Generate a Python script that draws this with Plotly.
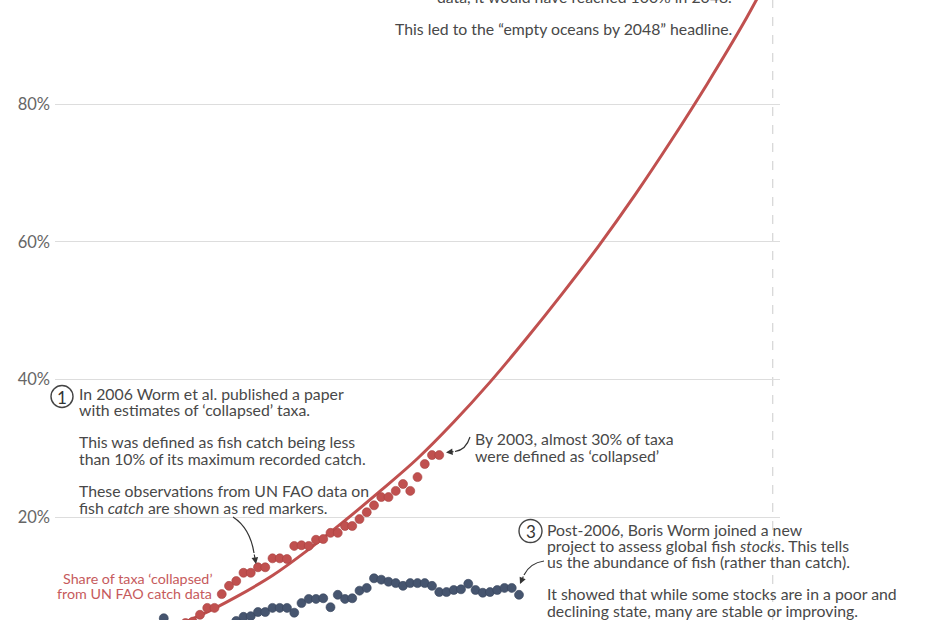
import plotly.graph_objects as go

# ---------------- data ----------------
catch_years = list(range(1968, 2004))
catch_collapsed = [4.6, 4.8,
                   5.8, 6.8, 6.8, 8.8, 10.0, 10.7, 11.9, 11.9, 12.7, 12.7,
                   14.0, 14.0, 13.9, 15.8, 15.9, 15.8, 16.7, 16.8, 17.7, 17.7,
                   18.7, 18.7, 19.7, 20.7, 21.7, 22.9, 22.9, 23.8, 24.8, 23.8,
                   25.8, 27.7, 29.0, 29.0]

stock_years = [1965] + list(range(1975, 2015))
stock_collapsed = [5.3,
                   4.9, 5.5, 5.6, 6.2, 6.2, 6.8, 6.8, 6.8, 6.1, 7.5,
                   8.1, 8.1, 8.2, 6.9, 8.7, 8.1, 8.2, 9.3, 9.7, 11.1,
                   10.9, 10.6, 10.4, 10.0, 10.4, 10.4, 10.4, 10.0, 9.1, 9.1,
                   9.4, 9.5, 10.3, 9.4, 9.0, 9.1, 9.4, 9.7, 9.7, 8.7]

trend_years = [1950, 1955, 1960, 1965, 1970, 1975, 1980, 1985, 1990, 1995, 2000,
               2005, 2010, 2015, 2020, 2025, 2030, 2035, 2040, 2045, 2050]
trend_values = [0.2, 0.9, 1.8, 3.5, 5.7, 8.4, 11.5, 15.3, 19.5, 23.9, 28.5,
                33.8, 39.6, 45.9, 52.5, 59.4, 66.8, 74.7, 83.0, 91.8, 101.6]

y_ticks = [20, 40, 60, 80]
y_tick_labels = ["20%", "40%", "60%", "80%"]
marker_year = 2049

# ---------------- layout geometry ----------------
FIG_W, FIG_H = 930, 620
L, R, T, B = 55, 150, 0, 0
PW, PH = FIG_W - L - R, FIG_H - T - B
X_RANGE = [1950, 2050]
Y_RANGE = [5.04, 95.12]

RED = "#c0504f"
RED_TXT = "#c65a5c"
BLUE = "#46556f"
TXT = "#484848"
FONT = "Lato"
FS = 15.8


def px(p):  # pixel x -> paper x
    return (p - L) / PW


def py(p):  # pixel y -> paper y
    return 1 - (p - T) / PH


fig = go.Figure()

fig.add_trace(go.Scatter(
    x=trend_years, y=trend_values, mode="lines", line_shape="spline",
    line=dict(color=RED, width=3), hoverinfo="skip", showlegend=False))

fig.add_trace(go.Scatter(
    x=catch_years, y=catch_collapsed, mode="markers",
    marker=dict(size=9, color=RED, line=dict(color="#a8413f", width=0.6)),
    showlegend=False, name="catch"))

fig.add_trace(go.Scatter(
    x=stock_years, y=stock_collapsed, mode="markers",
    marker=dict(size=9, color=BLUE, line=dict(color="#38455c", width=0.6)),
    showlegend=False, name="stocks"))

annotations = []
shapes = []


def text_block(x, y0, lines, lh=16.3, size=FS, color=TXT, anchor="left"):
    for i, ln in enumerate(lines):
        if ln == "":
            continue
        annotations.append(dict(
            xref="paper", yref="paper", x=px(x), y=py(y0 + i * lh),
            text=ln, showarrow=False, xanchor=anchor, yanchor="middle",
            borderpad=0,
            font=dict(family=FONT, size=size, color=color)))


def circled(cx, cy, r, label):
    shapes.append(dict(type="circle", xref="paper", yref="paper",
                       x0=px(cx - r), x1=px(cx + r), y0=py(cy + r), y1=py(cy - r),
                       line=dict(color="#444", width=1.4)))
    annotations.append(dict(xref="paper", yref="paper", x=px(cx), y=py(cy + 0.5),
                            text=label, showarrow=False, xanchor="center",
                            yanchor="middle",
                            font=dict(family=FONT, size=17, color="#333")))


def curved_arrow(p0, c, p1, tip):
    shapes.append(dict(
        type="path", xref="paper", yref="paper",
        path=f"M {px(p0[0])},{py(p0[1])} Q {px(c[0])},{py(c[1])} {px(p1[0])},{py(p1[1])}",
        line=dict(color="#333", width=1.2)))
    annotations.append(dict(
        xref="paper", yref="paper", x=px(tip[0]), y=py(tip[1]), text="",
        showarrow=True, arrowhead=2, arrowsize=1.1, arrowwidth=1.2,
        arrowcolor="#333", ax=p1[0] - tip[0], ay=p1[1] - tip[1], standoff=0))


# Annotation 1
circled(62, 396.5, 11, "1")
text_block(78, 393, [
    "In 2006 Worm et al. published a paper",
    "with estimates of ‘collapsed’ taxa.",
    "",
    "This was defined as fish catch being less",
    "than 10% of its maximum recorded catch.",
    "",
    "These observations from UN FAO data on",
    "fish <i>catch</i> are shown as red markers.",
])
curved_arrow((233, 517), (250, 528), (254, 553), (256, 564))

# Red series label
text_block(213, 578, ["Share of taxa ‘collapsed’", "from UN FAO catch data"],
           lh=15.5, size=14.3, color=RED_TXT, anchor="right")

# 2003 annotation
text_block(474, 439, ["By 2003, almost 30% of taxa", "were defined as ‘collapsed’"], lh=16)
curved_arrow((470, 437), (466, 450), (455, 451.5), (446, 452.5))

# Top annotation (2)
text_block(733, -3.6, [
    "data, it would have reached 100% in 2048.",
    "",
    "This led to the “empty oceans by 2048” headline.",
], anchor="right")

# Annotation 3
circled(530.5, 531, 11.5, "3")
text_block(546, 529, [
    "Post-2006, Boris Worm joined a new",
    "project to assess global fish <i>stocks</i>. This tells",
    "us the abundance of fish (rather than catch).",
    "",
    "It showed that while some stocks are in a poor and",
    "declining state, many are stable or improving.",
], lh=16.2)
curved_arrow((544, 561), (530, 563), (524, 575), (520, 584))

# dashed 2048 marker line
shapes.append(dict(type="line", xref="x", yref="paper", x0=marker_year, x1=marker_year,
                   y0=0, y1=1, line=dict(color="#cccccc", width=1, dash="dash"),
                   layer="below"))

fig.update_layout(
    width=FIG_W, height=FIG_H,
    margin=dict(l=L, r=R, t=T, b=B),
    paper_bgcolor="white", plot_bgcolor="white",
    font=dict(family=FONT, color=TXT),
    xaxis=dict(range=X_RANGE, showgrid=False, showticklabels=False,
               zeroline=False, showline=False, ticks=""),
    yaxis=dict(range=Y_RANGE, tickvals=y_ticks, ticktext=y_tick_labels,
               showgrid=True, gridcolor="#dddddd", gridwidth=1,
               zeroline=False, showline=False, ticks="", ticklabelstandoff=4,
               tickfont=dict(family=FONT, size=16.5, color="#666666")),
    annotations=annotations,
    shapes=shapes,
    showlegend=False,
)

fig.write_html("out.html",
               config={"displayModeBar": False},
               post_script="document.body.style.margin='0';document.body.style.overflow='hidden';")
